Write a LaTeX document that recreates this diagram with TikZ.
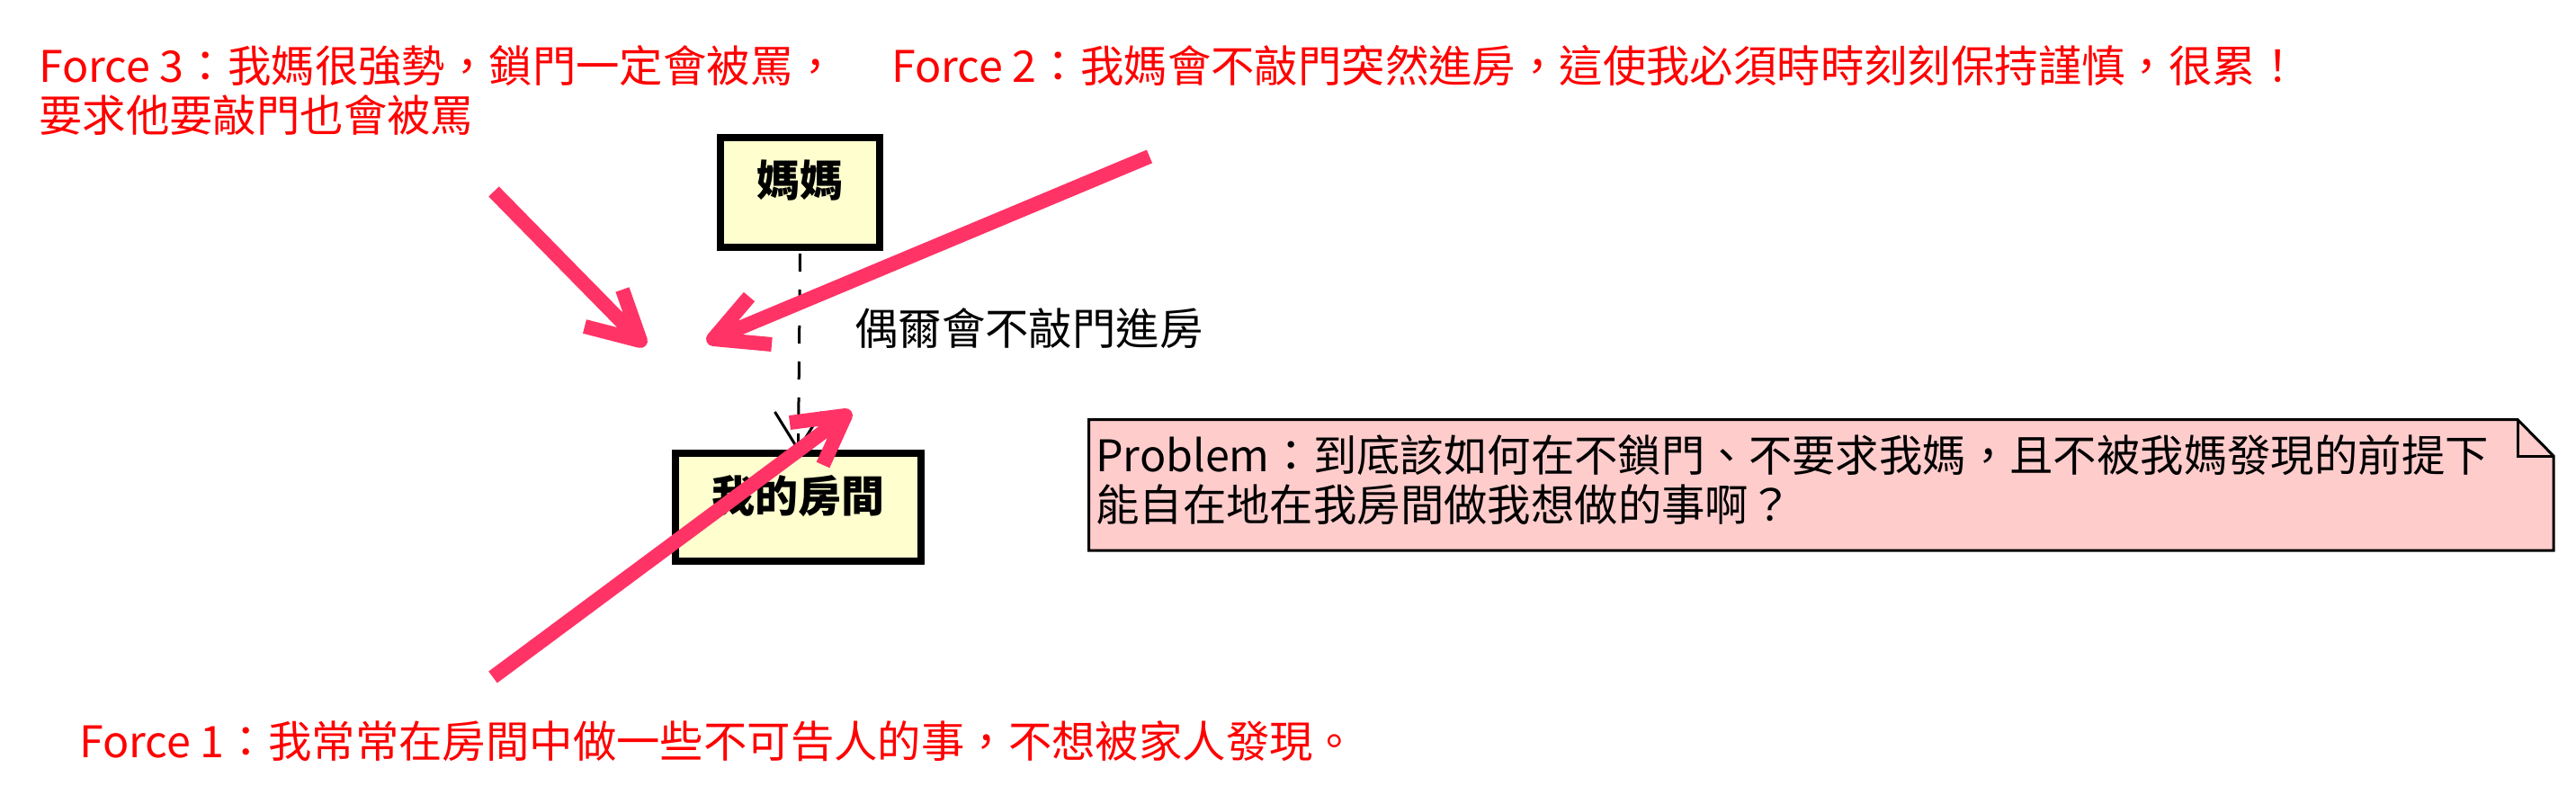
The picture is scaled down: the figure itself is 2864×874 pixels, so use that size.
\documentclass[tikz,border=0pt]{standalone}
\usepackage{fontspec}
\setmainfont{Noto Sans CJK TC}
\definecolor{pk}{RGB}{255,51,102}
\definecolor{ylw}{RGB}{254,254,206}
\definecolor{notepink}{RGB}{255,204,204}
\definecolor{fred}{RGB}{255,0,0}
\begin{document}
\begin{tikzpicture}[x=1pt,y=-1pt,
  bigfont/.style={font=\fontsize{48.4}{55}\selectfont},
  forcetext/.style={bigfont, anchor=base west, inner sep=0pt, text=fred},
  blacktext/.style={bigfont, anchor=base west, inner sep=0pt, text=black},
  pbox/.style={draw=black, fill=ylw, line width=8pt, inner sep=0pt,
    font=\fontsize{48}{55}\selectfont\bfseries, text height=40pt, text depth=30pt},
  msgline/.style={draw=black, line width=3pt, dash pattern=on 20pt off 20pt},
  barb/.style={draw=black, line width=3pt},
  notebox/.style={draw=black, fill=notepink, line width=3pt, line join=miter},
  forcearrow/.style={draw=pk, line width=16pt, line join=round}
]
\useasboundingbox (0,0) rectangle (2864,874);

% participants
\node[pbox, minimum width=177pt, minimum height=122pt] (mama) at (889.5,214) {媽媽};
\node[pbox, minimum width=273pt, minimum height=120pt] (room) at (887.5,564) {我的房間};

% message
\draw[msgline] ([yshift=-3pt]mama.south) -- (room.north);
\draw[barb] (room.north) -- ++(-26,-42);
\draw[barb] (room.north) -- ++(26,-42);
\node[blacktext] (msg) at (950,384) {偶爾會不敲門進房};

% note
\coordinate (ntl) at (1210.5,466.5);
\coordinate (nf) at (2799,466.5);
\coordinate (nfc) at (2799,507);
\coordinate (nr) at (2839,507);
\coordinate (nbr) at (2839,612);
\coordinate (nbl) at (1210.5,612);
\draw[notebox] (ntl) -- (nf) -- (nr) -- (nbr) -- (nbl) -- cycle;
\draw[draw=black, line width=3pt] (nf) -- (nfc) -- (nr);
\node[blacktext] (note1) at (1218,524) {Problem：到底該如何在不鎖門、不要求我媽，且不被我媽發現的前提下};
\node[blacktext] (note2) at (1218,579) {能自在地在我房間做我想做的事啊？};

% force texts
\node[forcetext] (force3a) at (43,92) {Force 3：我媽很強勢，鎖門一定會被罵，};
\node[forcetext] (force3b) at (43,147) {要求他要敲門也會被罵};
\node[forcetext] (force2) at (991,92) {Force 2：我媽會不敲門突然進房，這使我必須時時刻刻保持謹慎，很累！};
\node[forcetext] (force1) at (88,842) {Force 1：我常常在房間中做一些不可告人的事，不想被家人發現。};

% force arrows
\coordinate (f3s) at (549,213);
\coordinate (f3t) at (712,379);
\coordinate (f3a) at (692,322);
\coordinate (f3b) at (650,363);
\coordinate (f2s) at (1278,174);
\coordinate (f2t) at (793,377);
\coordinate (f2a) at (833,330);
\coordinate (f2b) at (858,383);
\coordinate (f1s) at (548,753);
\coordinate (f1t) at (940,462);
\coordinate (f1a) at (878,470);
\coordinate (f1b) at (915,517);
\draw[forcearrow] (f3s) -- (f3t) (f3a) -- (f3t) -- (f3b);
\draw[forcearrow] (f2s) -- (f2t) (f2a) -- (f2t) -- (f2b);
\draw[forcearrow] (f1s) -- (f1t) (f1a) -- (f1t) -- (f1b);
\end{tikzpicture}
\end{document}
